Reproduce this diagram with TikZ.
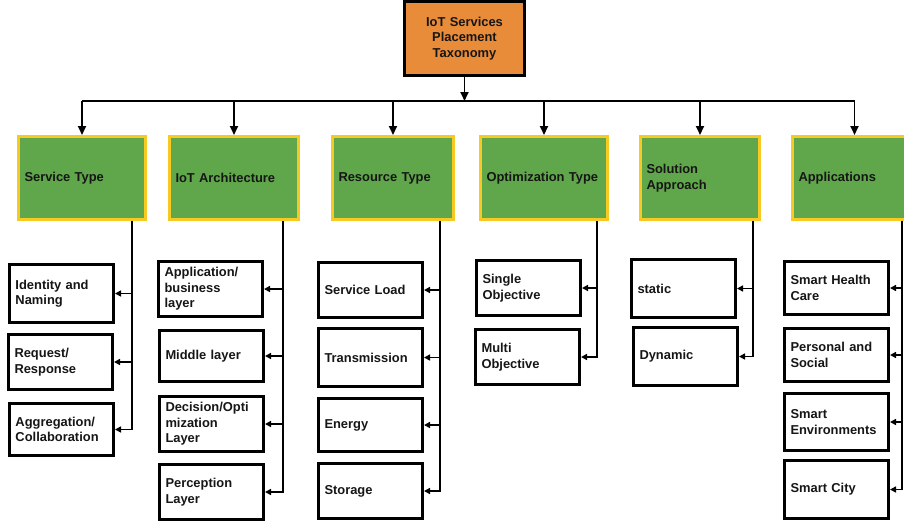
\documentclass[tikz,border=0pt]{standalone}
\usepackage{fontspec}
\setmainfont{Liberation Sans}
\usetikzlibrary{arrows.meta}
\definecolor{taxOrange}{RGB}{233,140,58}
\definecolor{taxGreen}{RGB}{96,166,74}
\definecolor{taxYellow}{RGB}{246,202,34}
\definecolor{taxText}{RGB}{22,22,22}
\newcommand{\taxfont}{\fontsize{12.9}{15.5}\selectfont\bfseries}

\begin{document}
\begin{tikzpicture}
% taxonomy chart, one unit = one pixel of the original figure
\def\unitsz{1pt}
\providecommand{\taxLineWidth}{1.8pt}
\providecommand{\taxBorderWidth}{3pt}
\tikzset{
  rootbox/.style={draw=black, line width=\taxBorderWidth, fill=taxOrange, text=taxText,
    font=\taxfont, align=center, text width=106pt, minimum height=74pt, inner xsep=7pt, anchor=north west},
  catbox/.style={draw=taxYellow, line width=\taxBorderWidth, fill=taxGreen, text=taxText,
    font=\taxfont, align=left, text width=#1, minimum height=83pt, inner xsep=6pt, anchor=north west},
  leafbox/.style={draw=black, line width=\taxBorderWidth, fill=white, text=taxText,
    font=\taxfont, align=left, text width=92pt, minimum height=55pt, inner xsep=6pt, anchor=north west},
  link/.style={draw=black, line width=\taxLineWidth},
  linkarrow/.style={link, -{Triangle[length=6pt,width=6pt]}},
  bigarrow/.style={link, -{Triangle[length=9pt,width=8pt]}},
}
\begin{scope}[x=\unitsz, y=-\unitsz]
  \useasboundingbox (0,0) rectangle (904,523);
  % Root
  \node[rootbox] (root) at (403,0) {IoT Services\\Placement\\Taxonomy};
  % Categories
  \node[catbox=115pt] (st) at (17,135) {Service Type};
  \node[catbox=117pt] (ia) at (168,135) {IoT Architecture};
  \node[catbox=109pt] (rt) at (331,135) {Resource Type};
  \node[catbox=115pt] (ot) at (479,135) {Optimization Type};
  \node[catbox=107pt] (sa) at (639,135) {Solution\\Approach};
  \node[catbox=112pt] (ap) at (791,135) {Applications};
  % Leaves: service type
  \node[leafbox, minimum height=58pt] (id) at (8,263) {Identity and\\Naming};
  \node[leafbox] (rr) at (7,333) {Request/\\Response};
  \node[leafbox, minimum height=52pt] (ag) at (8,402) {Aggregation/\\Collaboration};
  % Leaves: IoT architecture
  \node[leafbox] (ab) at (157,260) {Application/\\business\\layer};
  \node[leafbox, minimum height=51pt] (ml) at (158,329) {Middle layer};
  \node[leafbox] (dl) at (158,395) {Decision/Opti\\mization\\Layer};
  \node[leafbox] (pl) at (158,463) {Perception\\Layer};
  % Leaves: resource type
  \node[leafbox] (sl) at (317,261) {Service Load};
  \node[leafbox, minimum height=58pt] (tr) at (317,327) {Transmission};
  \node[leafbox, minimum height=53pt] (en) at (317,397) {Energy};
  \node[leafbox] (sg) at (317,462) {Storage};
  % Leaves: optimization type
  \node[leafbox] (so) at (475,259) {Single\\Objective};
  \node[leafbox] (mo) at (474,328) {Multi\\Objective};
  % Leaves: solution approach
  \node[leafbox, minimum height=58pt] (sc) at (630,258) {static};
  \node[leafbox, minimum height=58pt] (dy) at (632,326) {Dynamic};
  % Leaves: applications
  \node[leafbox, minimum height=53pt] (sh) at (783,260) {Smart Health\\Care};
  \node[leafbox, minimum height=53pt] (ps) at (783,327) {Personal and\\Social};
  \node[leafbox, minimum height=57pt] (se) at (783,392) {Smart\\Environments};
  \node[leafbox, minimum height=58pt] (sy) at (783,459) {Smart City};
  % Top level links
  \coordinate (bus) at (0,101);
  \draw[bigarrow] (root.south) -- (root.south |- bus);
  \draw[link] (st.north |- bus) -- (ap.north |- bus);
  \draw[bigarrow] (st.north |- bus) -- (st.north);
  \draw[bigarrow] (ia.north |- bus) -- (ia.north);
  \draw[bigarrow] (rt.north |- bus) -- (rt.north);
  \draw[bigarrow] (ot.north |- bus) -- (ot.north);
  \draw[bigarrow] (sa.north |- bus) -- (sa.north);
  \draw[bigarrow] (ap.north |- bus) -- (ap.north);
  % Category to leaf links
  \coordinate (stx) at (132,0);
  \coordinate (iax) at (283,0);
  \coordinate (rtx) at (440,0);
  \coordinate (otx) at (597,0);
  \coordinate (sax) at (753,0);
  \coordinate (apx) at (902,0);
  \draw[linkarrow] (stx |- st.south) |- (id.east);
  \draw[linkarrow] (stx |- st.south) |- (rr.east);
  \draw[linkarrow] (stx |- st.south) |- (ag.east);
  \draw[linkarrow] (iax |- ia.south) |- (ab.east);
  \draw[linkarrow] (iax |- ia.south) |- (ml.east);
  \draw[linkarrow] (iax |- ia.south) |- (dl.east);
  \draw[linkarrow] (iax |- ia.south) |- (pl.east);
  \draw[linkarrow] (rtx |- rt.south) |- (sl.east);
  \draw[linkarrow] (rtx |- rt.south) |- (tr.east);
  \draw[linkarrow] (rtx |- rt.south) |- (en.east);
  \draw[linkarrow] (rtx |- rt.south) |- (sg.east);
  \draw[linkarrow] (otx |- ot.south) |- (so.east);
  \draw[linkarrow] (otx |- ot.south) |- (mo.east);
  \draw[linkarrow] (sax |- sa.south) |- (sc.east);
  \draw[linkarrow] (sax |- sa.south) |- (dy.east);
  \draw[linkarrow] (apx |- ap.south) |- (sh.east);
  \draw[linkarrow] (apx |- ap.south) |- (ps.east);
  \draw[linkarrow] (apx |- ap.south) |- (se.east);
  \draw[linkarrow] (apx |- ap.south) |- (sy.east);
\end{scope}
\end{tikzpicture}
\end{document}
